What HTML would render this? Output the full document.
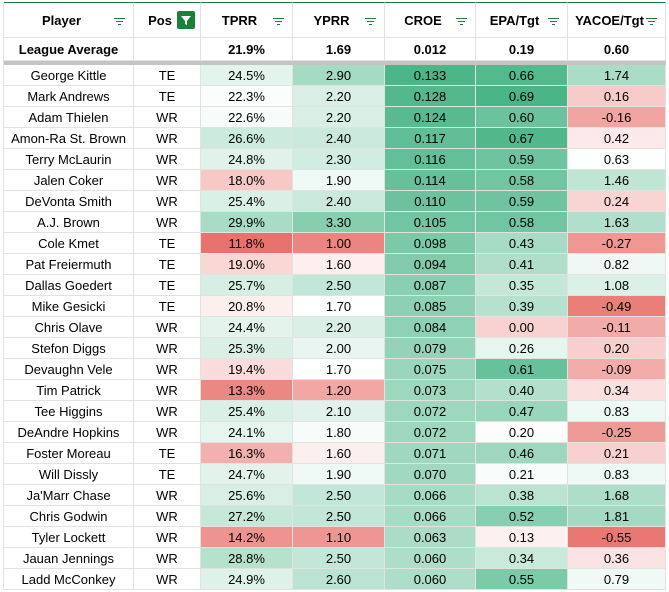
<!DOCTYPE html>
<html><head><meta charset="utf-8"><style>
body{margin:0;width:669px;height:592px;overflow:hidden;background:#fff;font-family:"Liberation Sans",Arial,sans-serif;font-size:13px;color:#000}
#g{position:absolute;left:3px;top:2px;display:grid;grid-template-columns:130px 67px 92px 92px 91px 92px 98px;grid-template-rows:36px 23px 4px;grid-auto-rows:21px;border-left:1px solid #e2e2e2}
#g div{box-sizing:border-box;border-right:1px solid #e2e2e2;border-bottom:1px solid #e2e2e2;display:flex;align-items:center;justify-content:center;white-space:nowrap;overflow:hidden;line-height:14px;padding-top:1px}
#g .h{font-weight:bold;border-top:1px solid #188038;position:relative;padding-right:14px}
#g .b{font-weight:bold}
#g .sep{grid-column:1/8;background:#c4c4c4;border:none}
.f{position:absolute;right:8px;top:15px;width:11px;height:8px}
.f i{position:absolute;height:1.3px;background:#188038;left:0}
.fb{position:absolute;right:5px;top:8px;width:18px;height:18px;background:#188038;border-radius:2px}
</style></head><body>
<div id="g">
<div class="h">Player<span class="f"><i style="width:11px;top:0"></i><i style="width:7px;left:2px;top:3px"></i><i style="width:3px;left:4px;top:6px"></i></span></div>
<div class="h">Pos<span class="fb"><svg width="18" height="18"><path d="M4 5h10l-4 5v4l-2 -1v-3z" fill="#fff"/></svg></span></div>
<div class="h">TPRR<span class="f"><i style="width:11px;top:0"></i><i style="width:7px;left:2px;top:3px"></i><i style="width:3px;left:4px;top:6px"></i></span></div>
<div class="h">YPRR<span class="f"><i style="width:11px;top:0"></i><i style="width:7px;left:2px;top:3px"></i><i style="width:3px;left:4px;top:6px"></i></span></div>
<div class="h">CROE<span class="f"><i style="width:11px;top:0"></i><i style="width:7px;left:2px;top:3px"></i><i style="width:3px;left:4px;top:6px"></i></span></div>
<div class="h">EPA/Tgt<span class="f"><i style="width:11px;top:0"></i><i style="width:7px;left:2px;top:3px"></i><i style="width:3px;left:4px;top:6px"></i></span></div>
<div class="h">YACOE/Tgt<span class="f"><i style="width:11px;top:0"></i><i style="width:7px;left:2px;top:3px"></i><i style="width:3px;left:4px;top:6px"></i></span></div>
<div class="b">League Average</div><div></div><div class="b">21.9%</div><div class="b">1.69</div><div class="b">0.012</div><div class="b">0.19</div><div class="b">0.60</div>
<div class="sep"></div>
<div>George Kittle</div><div>TE</div><div class="c0">24.5%</div><div class="c1">2.90</div><div class="c2">0.133</div><div class="c3">0.66</div><div class="c4">1.74</div>
<div>Mark Andrews</div><div>TE</div><div class="c0">22.3%</div><div class="c1">2.20</div><div class="c2">0.128</div><div class="c3">0.69</div><div class="c4">0.16</div>
<div>Adam Thielen</div><div>WR</div><div class="c0">22.6%</div><div class="c1">2.20</div><div class="c2">0.124</div><div class="c3">0.60</div><div class="c4">-0.16</div>
<div>Amon-Ra St. Brown</div><div>WR</div><div class="c0">26.6%</div><div class="c1">2.40</div><div class="c2">0.117</div><div class="c3">0.67</div><div class="c4">0.42</div>
<div>Terry McLaurin</div><div>WR</div><div class="c0">24.8%</div><div class="c1">2.30</div><div class="c2">0.116</div><div class="c3">0.59</div><div class="c4">0.63</div>
<div>Jalen Coker</div><div>WR</div><div class="c0">18.0%</div><div class="c1">1.90</div><div class="c2">0.114</div><div class="c3">0.58</div><div class="c4">1.46</div>
<div>DeVonta Smith</div><div>WR</div><div class="c0">25.4%</div><div class="c1">2.40</div><div class="c2">0.110</div><div class="c3">0.59</div><div class="c4">0.24</div>
<div>A.J. Brown</div><div>WR</div><div class="c0">29.9%</div><div class="c1">3.30</div><div class="c2">0.105</div><div class="c3">0.58</div><div class="c4">1.63</div>
<div>Cole Kmet</div><div>TE</div><div class="c0">11.8%</div><div class="c1">1.00</div><div class="c2">0.098</div><div class="c3">0.43</div><div class="c4">-0.27</div>
<div>Pat Freiermuth</div><div>TE</div><div class="c0">19.0%</div><div class="c1">1.60</div><div class="c2">0.094</div><div class="c3">0.41</div><div class="c4">0.82</div>
<div>Dallas Goedert</div><div>TE</div><div class="c0">25.7%</div><div class="c1">2.50</div><div class="c2">0.087</div><div class="c3">0.35</div><div class="c4">1.08</div>
<div>Mike Gesicki</div><div>TE</div><div class="c0">20.8%</div><div class="c1">1.70</div><div class="c2">0.085</div><div class="c3">0.39</div><div class="c4">-0.49</div>
<div>Chris Olave</div><div>WR</div><div class="c0">24.4%</div><div class="c1">2.20</div><div class="c2">0.084</div><div class="c3">0.00</div><div class="c4">-0.11</div>
<div>Stefon Diggs</div><div>WR</div><div class="c0">25.3%</div><div class="c1">2.00</div><div class="c2">0.079</div><div class="c3">0.26</div><div class="c4">0.20</div>
<div>Devaughn Vele</div><div>WR</div><div class="c0">19.4%</div><div class="c1">1.70</div><div class="c2">0.075</div><div class="c3">0.61</div><div class="c4">-0.09</div>
<div>Tim Patrick</div><div>WR</div><div class="c0">13.3%</div><div class="c1">1.20</div><div class="c2">0.073</div><div class="c3">0.40</div><div class="c4">0.34</div>
<div>Tee Higgins</div><div>WR</div><div class="c0">25.4%</div><div class="c1">2.10</div><div class="c2">0.072</div><div class="c3">0.47</div><div class="c4">0.83</div>
<div>DeAndre Hopkins</div><div>WR</div><div class="c0">24.1%</div><div class="c1">1.80</div><div class="c2">0.072</div><div class="c3">0.20</div><div class="c4">-0.25</div>
<div>Foster Moreau</div><div>TE</div><div class="c0">16.3%</div><div class="c1">1.60</div><div class="c2">0.071</div><div class="c3">0.46</div><div class="c4">0.21</div>
<div>Will Dissly</div><div>TE</div><div class="c0">24.7%</div><div class="c1">1.90</div><div class="c2">0.070</div><div class="c3">0.21</div><div class="c4">0.83</div>
<div>Ja'Marr Chase</div><div>WR</div><div class="c0">25.6%</div><div class="c1">2.50</div><div class="c2">0.066</div><div class="c3">0.38</div><div class="c4">1.68</div>
<div>Chris Godwin</div><div>WR</div><div class="c0">27.2%</div><div class="c1">2.50</div><div class="c2">0.066</div><div class="c3">0.52</div><div class="c4">1.81</div>
<div>Tyler Lockett</div><div>WR</div><div class="c0">14.2%</div><div class="c1">1.10</div><div class="c2">0.063</div><div class="c3">0.13</div><div class="c4">-0.55</div>
<div>Jauan Jennings</div><div>WR</div><div class="c0">28.8%</div><div class="c1">2.50</div><div class="c2">0.060</div><div class="c3">0.34</div><div class="c4">0.36</div>
<div>Ladd McConkey</div><div>WR</div><div class="c0">24.9%</div><div class="c1">2.60</div><div class="c2">0.060</div><div class="c3">0.55</div><div class="c4">0.79</div>
</div>
<script>
var S=[[11.8,21.9,40],[0.9,1.69,4.3],[-0.1,0,0.145],[-0.4,0.19,0.73],[-0.58,0.6,3.2]];
var R=[232,115,110],G=[60,175,125],W=[255,255,255];
function mix(a,b,t){return 'rgb('+a.map(function(v,i){return Math.round(v+(b[i]-v)*t)}).join(',')+')'}
for(var c=0;c<5;c++){var els=document.querySelectorAll('.c'+c);var s=S[c];
for(var k=0;k<els.length;k++){var v=parseFloat(els[k].textContent);var col;
if(v<s[1])col=mix(W,R,Math.min(1,(s[1]-v)/(s[1]-s[0])));else col=mix(W,G,Math.min(1,(v-s[1])/(s[2]-s[1])));
els[k].style.background=col;}}
</script>
</body></html>
